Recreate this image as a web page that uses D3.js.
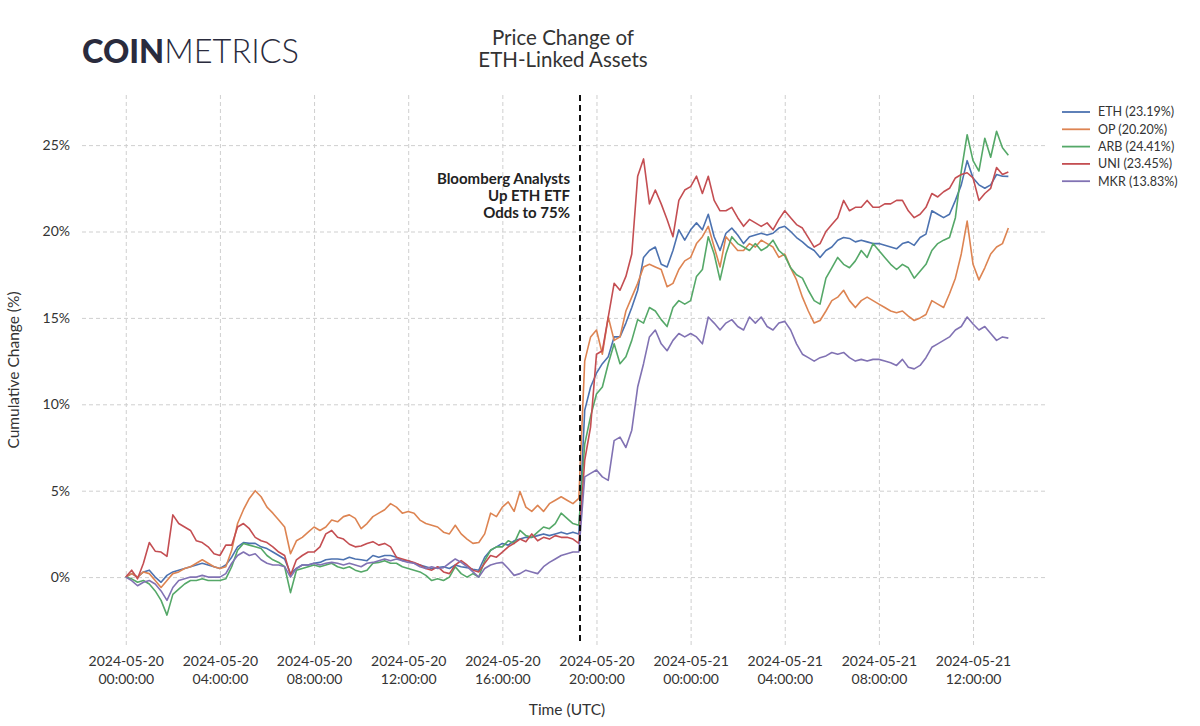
<!DOCTYPE html>
<html>
<head>
<meta charset="utf-8">
<script src="https://cdn.jsdelivr.net/npm/d3@7"></script>
<style>
  html, body { margin: 0; padding: 0; background: #fff; }
  svg { display: block; font-family: Lato, "Noto Sans", sans-serif; }
</style>
</head>
<body>
<div id="chart"></div>
<script>
// cumulative % change, sampled every 15 minutes from 2024-05-20 00:00 UTC
const startTime = Date.UTC(2024, 4, 20, 0, 0);
const stepMinutes = 15;
const eventTime = Date.UTC(2024, 4, 20, 19, 18);

const seriesNames = ['ETH', 'OP', 'ARB', 'UNI', 'MKR'];
const seriesColors = ['#4c72b0', '#dd8452', '#55a868', '#c44e52', '#8172b3'];

const eth = [0,
  0.2, 0, 0.3, 0.4, 0, -0.3, 0.1, 0.3,
  0.4, 0.5, 0.6, 0.7, 0.8, 0.7, 0.6, 0.5,
  0.7, 1.15, 1.75, 2.0, 1.95, 1.95, 1.75, 1.65,
  1.45, 1.25, 1.05, 0.2, 0.5, 0.7, 0.7, 0.8,
  0.85, 1.0, 1.05, 1.05, 1.0, 1.15, 1.05, 1.0,
  0.95, 1.25, 1.15, 1.25, 1.25, 1.15, 0.95, 0.95,
  0.8, 0.7, 0.6, 0.5, 0.55, 0.6, 0.5, 0.7,
  0.6, 0.55, 0.45, 0.4, 1.15, 1.55, 1.75, 1.95,
  1.85, 2.1, 2.2, 2.3, 2.3, 2.4, 2.5, 2.4,
  2.5, 2.6, 2.5, 2.6, 2.5, 9.65, 11.0, 11.8,
  12.35, 12.75, 13.9, 13.9, 14.7, 15.6, 16.6, 18.5,
  18.9, 19.1, 18.1, 17.95, 18.9, 20.1, 19.5, 20.1,
  20.5, 20.1, 21.0, 19.7, 18.9, 19.9, 20.2, 19.8,
  19.3, 19.7, 19.8, 19.9, 19.8, 19.9, 20.2, 20.3,
  20.0, 19.65, 19.4, 19.1, 18.9, 18.5, 18.9, 19.1,
  19.5, 19.65, 19.6, 19.4, 19.5, 19.4, 19.3, 19.3,
  19.2, 19.1, 19.0, 19.3, 19.4, 19.2, 19.65, 19.85,
  21.2, 21.0, 20.8, 21.0, 21.8, 22.7, 24.1, 23.1,
  22.7, 22.5, 22.7, 23.3, 23.2, 23.19];

const op = [0,
  0.2, 0, 0.3, 0.2, -0.2, -0.6, -0.2, 0.2,
  0.3, 0.5, 0.6, 0.8, 1.0, 0.8, 0.6, 0.5,
  0.6, 1.55, 3.1, 3.9, 4.55, 5.0, 4.65, 4.05,
  3.7, 3.3, 2.9, 1.35, 2.1, 2.3, 2.6, 2.9,
  2.7, 2.9, 3.3, 3.2, 3.5, 3.6, 3.4, 2.8,
  3.1, 3.5, 3.7, 3.9, 4.25, 4.05, 3.7, 3.8,
  3.7, 3.3, 3.1, 3.0, 2.9, 2.6, 2.5, 3.0,
  2.5, 2.2, 1.95, 2.0, 2.5, 3.7, 3.5, 4.05,
  4.35, 3.8, 4.95, 4.05, 3.8, 4.15, 3.8, 4.25,
  4.45, 4.65, 4.45, 4.25, 4.55, 12.5, 13.9, 14.3,
  12.9, 15.05, 13.7, 13.9, 15.4, 16.2, 17.0, 17.95,
  18.1, 17.95, 17.8, 16.8, 17.0, 17.8, 18.3, 18.5,
  19.3, 19.7, 20.3, 19.1, 17.95, 19.7, 19.3, 18.9,
  18.9, 19.3, 19.1, 19.5, 19.3, 19.1, 18.5, 18.7,
  17.9, 17.2, 16.2, 15.4, 14.7, 14.85, 15.4, 16.0,
  16.2, 16.6, 16.0, 15.6, 16.0, 16.2, 16.0, 15.8,
  15.6, 15.4, 15.3, 15.4, 15.1, 14.85, 15.0, 15.2,
  16.0, 15.8, 15.6, 16.4, 17.3, 18.7, 20.6, 18.1,
  17.2, 17.9, 18.7, 19.1, 19.3, 20.20];

const arb = [0,
  -0.1, -0.3, -0.2, -0.4, -0.8, -1.35, -2.2, -1.0,
  -0.7, -0.4, -0.2, -0.2, -0.1, -0.2, -0.2, -0.2,
  -0.1, 0.6, 1.55, 1.95, 1.85, 1.75, 1.65, 1.25,
  1.0, 0.85, 0.6, -0.9, 0.4, 0.5, 0.6, 0.7,
  0.6, 0.7, 0.8, 0.6, 0.5, 0.6, 0.4, 0.3,
  0.4, 0.8, 0.85, 0.95, 0.8, 0.8, 0.6, 0.5,
  0.4, 0.3, 0.1, -0.2, -0.1, -0.2, 0, 0.6,
  0.2, 0, 0.2, 0, 0.95, 1.55, 1.75, 1.75,
  2.1, 1.95, 2.7, 2.4, 2.3, 2.6, 2.9, 2.8,
  3.1, 3.7, 3.4, 3.1, 3.0, 7.7, 9.3, 10.6,
  11.0, 12.35, 13.5, 12.35, 12.75, 13.7, 14.9, 14.7,
  15.6, 15.4, 14.9, 14.5, 15.6, 16.0, 15.8, 16.0,
  17.4, 17.8, 19.7, 18.7, 17.2, 18.7, 19.7, 19.3,
  19.1, 18.9, 19.3, 18.9, 19.1, 19.5, 18.9, 18.6,
  17.9, 17.5, 17.3, 16.6, 16.0, 15.8, 17.3, 17.9,
  18.5, 18.1, 17.9, 18.3, 18.9, 18.5, 19.3, 18.9,
  18.5, 18.1, 17.8, 18.1, 17.9, 17.3, 17.7, 18.1,
  18.9, 19.3, 19.5, 19.65, 20.8, 23.5, 25.6, 24.1,
  23.5, 25.4, 24.3, 25.8, 24.85, 24.41];

const uni = [0,
  0.4, -0.1, 0.8, 2.0, 1.5, 1.45, 1.2, 3.6,
  3.1, 2.9, 2.7, 2.1, 2.0, 1.75, 1.35, 1.25,
  1.85, 1.85, 2.9, 3.1, 2.8, 2.3, 2.1, 2.0,
  1.75, 1.45, 1.25, 0.1, 1.0, 1.25, 1.45, 1.45,
  1.75, 2.5, 2.7, 2.3, 2.2, 1.9, 1.75, 1.8,
  1.95, 2.05, 1.85, 1.95, 1.75, 1.15, 1.05, 0.95,
  0.85, 0.7, 0.5, 0.4, 0.6, 0.3, 0.2, 0.7,
  0.95, 0.7, 0.4, 0.3, 0.8, 1.25, 1.15, 1.45,
  1.75, 1.95, 2.2, 2.05, 2.5, 2.1, 2.3, 2.2,
  2.4, 2.3, 2.3, 2.2, 1.95, 6.75, 8.7, 12.9,
  13.1, 15.05, 17.0, 16.6, 17.4, 18.7, 23.2, 24.2,
  21.6, 22.4, 21.6, 20.7, 19.7, 21.8, 22.4, 22.6,
  23.2, 22.2, 23.2, 21.8, 21.2, 21.2, 21.4, 20.8,
  20.3, 20.7, 20.5, 20.3, 20.5, 20.1, 20.7, 21.2,
  20.8, 20.4, 20.2, 19.65, 19.1, 19.3, 20.0, 20.4,
  20.8, 21.8, 21.2, 21.4, 21.4, 21.8, 21.4, 21.4,
  21.6, 21.6, 21.8, 21.8, 21.2, 20.8, 21.0, 21.4,
  22.2, 22.0, 22.3, 22.5, 23.1, 23.3, 23.4, 23.1,
  21.8, 22.2, 22.5, 23.7, 23.3, 23.45];

const mkr = [0,
  -0.2, -0.5, -0.3, -0.2, -0.4, -0.8, -1.35, -0.6,
  -0.2, -0.1, 0, 0, 0.1, 0, 0, 0,
  0.2, 0.8, 1.25, 1.45, 1.25, 1.35, 1.0, 0.8,
  0.7, 0.7, 0.6, 0, 0.5, 0.7, 0.7, 0.8,
  0.7, 0.8, 0.85, 0.8, 0.7, 0.8, 0.7, 0.6,
  0.8, 0.85, 0.95, 1.05, 0.95, 1.05, 0.95, 0.85,
  0.8, 0.6, 0.5, 0.6, 0.5, 0.55, 0.8, 1.05,
  0.85, 0.6, 0.3, 0, 0.5, 0.7, 0.8, 0.85,
  0.5, 0.1, 0.2, 0.4, 0.3, 0.2, 0.6, 0.85,
  1.05, 1.25, 1.35, 1.45, 1.45, 5.8, 6.0, 6.2,
  5.8, 5.6, 7.9, 8.1, 7.5, 8.5, 11.0, 12.35,
  13.9, 14.3, 13.5, 13.1, 13.7, 14.1, 13.9, 14.1,
  13.9, 13.5, 15.05, 14.7, 14.3, 14.7, 14.9, 14.5,
  14.3, 15.05, 14.7, 15.05, 14.5, 14.3, 14.7, 14.8,
  14.3, 13.5, 12.9, 12.7, 12.5, 12.7, 12.8, 13.0,
  12.9, 13.0, 12.7, 12.5, 12.6, 12.5, 12.6, 12.6,
  12.5, 12.4, 12.25, 12.6, 12.15, 12.05, 12.25, 12.7,
  13.3, 13.5, 13.7, 13.9, 14.3, 14.5, 15.05, 14.65,
  14.3, 14.5, 14.1, 13.7, 13.9, 13.83];

const seriesValues = [eth, op, arb, uni, mkr];
const yTicks = [0, 5, 10, 15, 20, 25];
const annotationLines = ['Bloomberg Analysts', 'Up ETH ETF', 'Odds to 75%'];

const width = 1200;
const height = 726;
const margin = { top: 95, right: 154, bottom: 81, left: 82 };
const hour = 3600 * 1000;

const svg = d3.select('#chart')
  .append('svg')
    .attr('width', width)
    .attr('height', height);

svg.append('rect')
  .attr('width', width)
  .attr('height', height)
  .attr('fill', '#fff');

const x = d3.scaleUtc()
  .domain([startTime - 1.86 * hour, startTime + 39.1 * hour])
  .range([margin.left, width - margin.right]);

const y = d3.scaleLinear()
  .domain([-3.93, 27.9])
  .range([height - margin.bottom, margin.top]);

const grid = '#cfcfcf';

// y axis + horizontal grid
const yAxis = svg.append('g')
  .attr('transform', `translate(${margin.left},0)`)
  .call(d3.axisLeft(y)
    .tickValues(yTicks)
    .tickSize(-(width - margin.left - margin.right))
    .tickPadding(12)
    .tickFormat(d => d + '%'));
yAxis.select('.domain').remove();
yAxis.selectAll('.tick line')
  .attr('stroke', grid)
  .attr('stroke-dasharray', '4,3');
yAxis.selectAll('.tick text')
  .attr('fill', '#333')
  .style('font-size', '14px')
  .style('font-family', 'Lato, sans-serif');

// x axis + vertical grid
const xTicks = d3.utcHour.every(4).range(startTime, startTime + 37 * hour);
const fmtDate = d3.utcFormat('%Y-%m-%d');
const fmtTime = d3.utcFormat('%H:%M:%S');

const xAxis = svg.append('g')
  .attr('transform', `translate(0,${height - margin.bottom})`)
  .call(d3.axisBottom(x)
    .tickValues(xTicks)
    .tickSize(-(height - margin.top - margin.bottom))
    .tickFormat(''));
xAxis.select('.domain').remove();
xAxis.selectAll('.tick line')
  .attr('stroke', grid)
  .attr('stroke-dasharray', '4,3');
xAxis.selectAll('.tick')
  .append('text')
    .attr('fill', '#333')
    .attr('text-anchor', 'middle')
    .style('font-size', '14px')
    .style('font-family', 'Lato, sans-serif')
    .attr('y', 11)
    .each(function (d) {
      const t = d3.select(this);
      t.append('tspan').attr('x', 0).attr('dy', '0.71em').text(fmtDate(d));
      t.append('tspan').attr('x', 0).attr('dy', '1.3em').text(fmtTime(d));
    });

// lines
const line = d3.line()
  .x((d, i) => x(startTime + i * stepMinutes * 60000))
  .y(d => y(d));

svg.append('g')
  .selectAll('path')
  .data(seriesValues)
  .join('path')
    .attr('fill', 'none')
    .attr('stroke', (d, i) => seriesColors[i])
    .attr('stroke-width', 1.6)
    .attr('stroke-linejoin', 'round')
    .attr('d', line);

// event marker
const ex = x(eventTime);
svg.append('line')
  .attr('x1', ex).attr('x2', ex)
  .attr('y1', margin.top).attr('y2', height - margin.bottom)
  .attr('stroke', '#111')
  .attr('stroke-width', 2)
  .attr('stroke-dasharray', '6,4');

svg.append('text')
  .attr('text-anchor', 'end')
  .attr('fill', '#222')
  .style('font-size', '15px')
  .style('font-weight', 'bold')
  .selectAll('tspan')
  .data(annotationLines)
  .join('tspan')
    .attr('x', ex - 10)
    .attr('y', (d, i) => 184 + i * 17)
    .text(d => d);

// legend
const legend = svg.append('g')
  .selectAll('g')
  .data(seriesNames)
  .join('g')
    .attr('transform', (d, i) => `translate(1062,${112 + i * 17.3})`);
legend.append('line')
  .attr('x2', 28)
  .attr('stroke', (d, i) => seriesColors[i])
  .attr('stroke-width', 1.8);
legend.append('text')
  .attr('x', 36)
  .attr('dy', '0.35em')
  .attr('fill', '#333')
  .style('font-size', '12.5px')
  .text((d, i) => `${d} (${seriesValues[i][seriesValues[i].length - 1].toFixed(2)}%)`);

// titles
svg.append('text')
  .attr('text-anchor', 'middle')
  .attr('fill', '#333')
  .style('font-size', '20.5px')
  .selectAll('tspan')
  .data(['Price Change of', 'ETH-Linked Assets'])
  .join('tspan')
    .attr('x', 563)
    .attr('y', (d, i) => 45 + i * 22)
    .text(d => d);

svg.append('text')
  .attr('transform', `translate(19,${(margin.top + height - margin.bottom) / 2}) rotate(-90)`)
  .attr('text-anchor', 'middle')
  .attr('fill', '#333')
  .style('font-size', '15.5px')
  .text('Cumulative Change (%)');

svg.append('text')
  .attr('x', (margin.left + width - margin.right) / 2 + 3)
  .attr('y', 715)
  .attr('text-anchor', 'middle')
  .attr('fill', '#333')
  .style('font-size', '15.5px')
  .text('Time (UTC)');

// logo
const logo = svg.append('text')
  .attr('x', 82)
  .attr('y', 63)
  .attr('fill', '#2a2b3d')
  .style('font-size', '32.5px');
logo.append('tspan').style('font-weight', 900).text('COIN');
logo.append('tspan').style('font-weight', 300).text('METRICS');
</script>
</body>
</html>
